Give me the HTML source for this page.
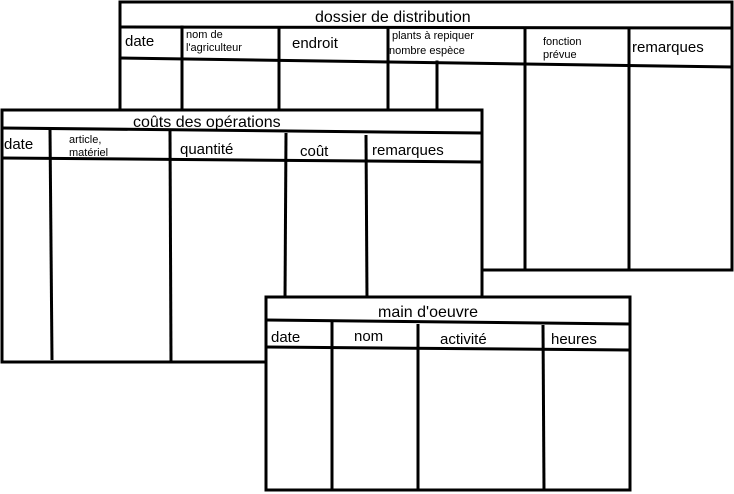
<!DOCTYPE html>
<html><head><meta charset="utf-8"><style>
html,body{margin:0;padding:0;background:#fff}
svg{display:block}
text{font-family:"Liberation Sans",sans-serif;fill:#000}
</style></head><body>
<svg width="734" height="494" viewBox="0 0 734 494" xmlns="http://www.w3.org/2000/svg">
<g stroke="#000" stroke-width="3" fill="none" stroke-linecap="square">
<!-- table 1 -->
<rect x="120" y="2" width="612" height="268" fill="#fff"/>
<line x1="120" y1="27" x2="732" y2="28"/>
<line x1="120" y1="58" x2="732" y2="67"/>
<line x1="182" y1="27" x2="182" y2="110"/>
<line x1="279" y1="28" x2="279" y2="110"/>
<line x1="388" y1="29" x2="388" y2="110"/>
<line x1="437" y1="62" x2="437" y2="110"/>
<line x1="525" y1="29" x2="525" y2="270"/>
<line x1="629" y1="30" x2="629" y2="270"/>
</g>
<g font-size="15">
<text x="315" y="22" font-size="16">dossier de distribution</text>
<text x="125" y="46" font-size="15">date</text>
<text x="186" y="38" font-size="11">nom de</text>
<text x="186" y="51" font-size="11">l'agriculteur</text>
<text x="292" y="48">endroit</text>
<text x="392" y="39" font-size="11">plants à repiquer</text>
<text x="389" y="54" font-size="11">nombre  espèce</text>
<text x="543" y="45" font-size="11">fonction</text>
<text x="543" y="58" font-size="11">prévue</text>
<text x="632" y="52">remarques</text>
</g>
<!-- table 2 -->
<g stroke="#000" stroke-width="3" fill="none">
<rect x="2" y="110" width="480" height="252" fill="#fff"/>
<line x1="2" y1="128" x2="482" y2="133"/>
<line x1="2" y1="158" x2="482" y2="162"/>
<line x1="50" y1="129" x2="52" y2="360"/>
<line x1="170" y1="131" x2="171" y2="362"/>
<line x1="286" y1="133" x2="285" y2="300"/>
<line x1="366" y1="135" x2="367" y2="300"/>
</g>
<g>
<text x="133" y="127" font-size="16">coûts des opérations</text>
<text x="4" y="149" font-size="15">date</text>
<text x="69" y="143" font-size="11">article,</text>
<text x="69" y="156" font-size="11">matériel</text>
<text x="180" y="154" font-size="15">quantité</text>
<text x="300" y="156" font-size="15">coût</text>
<text x="372" y="155" font-size="15">remarques</text>
</g>
<!-- table 3 -->
<g stroke="#000" stroke-width="3" fill="none">
<rect x="266" y="297" width="364" height="193" fill="#fff"/>
<line x1="266" y1="320" x2="630" y2="324"/>
<line x1="266" y1="347" x2="630" y2="350"/>
<line x1="332" y1="322" x2="332" y2="490"/>
<line x1="418" y1="324" x2="418" y2="490"/>
<line x1="543" y1="325" x2="544" y2="490"/>
</g>
<g>
<text x="378" y="317" font-size="16">main d'oeuvre</text>
<text x="271" y="342" font-size="15">date</text>
<text x="354" y="341" font-size="15">nom</text>
<text x="440" y="344" font-size="15">activité</text>
<text x="551" y="344" font-size="15">heures</text>
</g>
</svg>
</body></html>
